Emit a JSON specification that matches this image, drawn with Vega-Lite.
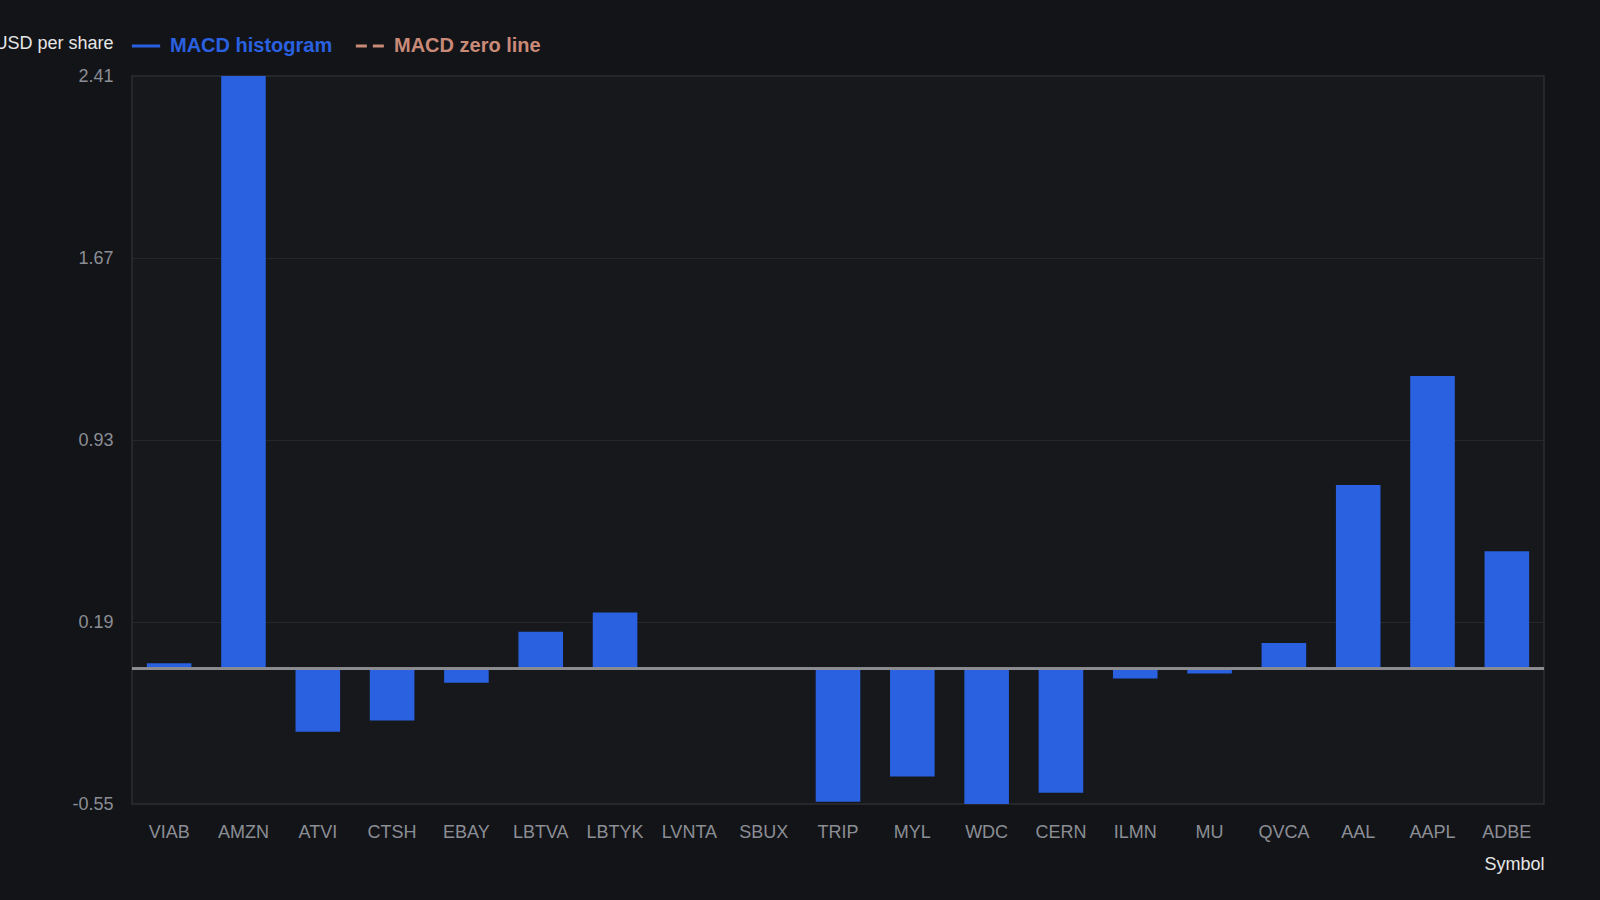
{
  "$schema": "https://vega.github.io/schema/vega-lite/v6.json",
  "description": "MACD histogram per symbol, dark theme.",
  "autosize": {"type": "none"},
  "width": 1412,
  "height": 728,
  "padding": {"left": 132, "top": 76, "right": 56, "bottom": 96},
  "background": "#131418",
  "config": {
    "font": "Liberation Sans",
    "view": {"fill": "#17181b", "stroke": "#2c2e32", "strokeWidth": 1.5}
  },
  "data": {
    "values": [
      {"Symbol": "VIAB", "macd": 0.022, "series": "MACD histogram"},
      {"Symbol": "AMZN", "macd": 2.41, "series": "MACD histogram"},
      {"Symbol": "ATVI", "macd": -0.256, "series": "MACD histogram"},
      {"Symbol": "CTSH", "macd": -0.21, "series": "MACD histogram"},
      {"Symbol": "EBAY", "macd": -0.057, "series": "MACD histogram"},
      {"Symbol": "LBTVA", "macd": 0.15, "series": "MACD histogram"},
      {"Symbol": "LBTYK", "macd": 0.229, "series": "MACD histogram"},
      {"Symbol": "LVNTA", "macd": -0.005, "series": "MACD histogram"},
      {"Symbol": "SBUX", "macd": 0.006, "series": "MACD histogram"},
      {"Symbol": "TRIP", "macd": -0.541, "series": "MACD histogram"},
      {"Symbol": "MYL", "macd": -0.438, "series": "MACD histogram"},
      {"Symbol": "WDC", "macd": -0.55, "series": "MACD histogram"},
      {"Symbol": "CERN", "macd": -0.504, "series": "MACD histogram"},
      {"Symbol": "ILMN", "macd": -0.04, "series": "MACD histogram"},
      {"Symbol": "MU", "macd": -0.019, "series": "MACD histogram"},
      {"Symbol": "QVCA", "macd": 0.105, "series": "MACD histogram"},
      {"Symbol": "AAL", "macd": 0.747, "series": "MACD histogram"},
      {"Symbol": "AAPL", "macd": 1.19, "series": "MACD histogram"},
      {"Symbol": "ADBE", "macd": 0.478, "series": "MACD histogram"}
    ]
  },
  "layer": [
    {
      "mark": {"type": "bar"},
      "encoding": {
        "x": {
          "field": "Symbol",
          "type": "nominal",
          "sort": null,
          "scale": {"paddingInner": 0.4, "paddingOuter": 0.2},
          "axis": {
            "title": "Symbol",
            "labelAngle": 0,
            "labelFontSize": 18,
            "labelColor": "#8b8e95",
            "labelPadding": 19,
            "ticks": false,
            "domain": false,
            "titleAnchor": "end",
            "titleAlign": "right",
            "titleFontSize": 18,
            "titleFontWeight": "normal",
            "titleColor": "#e6e6e6",
            "titlePadding": 14
          }
        },
        "y": {
          "field": "macd",
          "type": "quantitative",
          "scale": {"domain": [-0.55, 2.41], "nice": false, "zero": false},
          "axis": {
            "title": "USD per share",
            "values": [-0.55, 0.19, 0.93, 1.67, 2.41],
            "format": ".2f",
            "labelExpr": "replace(datum.label, '\u2212', '-')",
            "labelFontSize": 18,
            "labelColor": "#8b8e95",
            "labelPadding": 19,
            "ticks": false,
            "domain": false,
            "gridColor": "#25272b",
            "gridWidth": 1.2,
            "titleAngle": 0,
            "titleAlign": "right",
            "titleBaseline": "middle",
            "titleX": -19,
            "titleY": -33,
            "titleFontSize": 18,
            "titleFontWeight": "normal",
            "titleColor": "#e6e6e6"
          }
        },
        "color": {
          "field": "series",
          "type": "nominal",
          "scale": {"domain": ["MACD histogram", "MACD zero line"], "range": ["#2961e1", "#c98a78"]},
          "legend": {
            "title": null,
            "orient": "none",
            "direction": "horizontal",
            "legendX": -2,
            "legendY": -46,
            "symbolType": "stroke",
            "symbolSize": 800,
            "symbolStrokeWidth": 3,
            "labelFontSize": 20,
            "labelFontWeight": "bold",
            "labelLimit": 0,
            "labelOffset": 8,
            "columnPadding": 16,
            "encode": {
              "symbols": {"update": {"stroke": {"scale": "color", "field": "value"}, "strokeDash": {"scale": "strokeDash", "field": "value"}}},
              "labels": {"update": {"fill": {"scale": "color", "field": "value"}}}
            }
          }
        },
        "strokeDash": {
          "field": "series",
          "type": "nominal",
          "scale": {"domain": ["MACD histogram", "MACD zero line"], "range": [[1, 0], [11, 6]]}
        }
      }
    },
    {
      "mark": {"type": "rule", "color": "#8c8d90", "strokeWidth": 2},
      "encoding": {"y": {"datum": 0}}
    }
  ]
}
